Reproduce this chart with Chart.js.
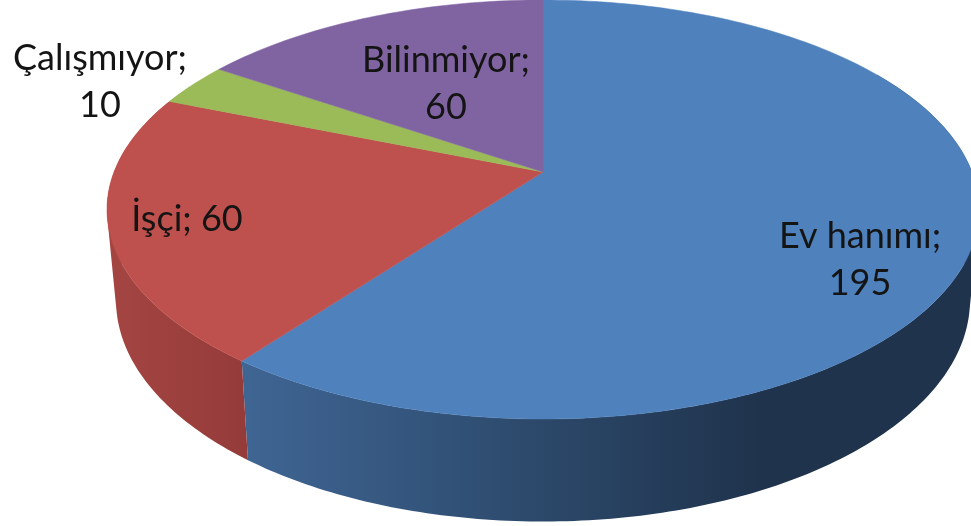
<!DOCTYPE html>
<html lang="tr">
<head>
<meta charset="utf-8">
<title>Pasta grafik</title>
<style>
html,body{margin:0;padding:0;background:#fff;overflow:hidden}
#c{display:block;filter:blur(0.7px)}
</style>
<script src="https://cdn.jsdelivr.net/npm/chart.js@4/dist/chart.umd.min.js"></script>
</head>
<body>
<canvas id="c" width="971" height="526"></canvas>
<script>
const categories = ['Ev hanımı', 'İşçi', 'Çalışmıyor', 'Bilinmiyor'];
const seriesValues = [195, 60, 10, 60];
const topColors = ['#4f81bd', '#be504d', '#9bbb59', '#8064a2'];

// Layout of the tilted disc (styling of the drawing, not data)
const apex = {x: 543, y: 172};
const topRim = {cx: 543, cy: 209.5, rx: 436, ry: 209.5};
const lowRim = {cx: 543, cy: 300, rx: 427, ry: 221.5};
const DEG = Math.PI / 180;
// Perspective foreshortening of the angle around the rim
function warp(t) { return t - 17.8 * DEG * Math.sin(t) - 2.9 * DEG * Math.sin(2 * t); }
function rimPoint(r, p) { return [r.cx + r.rx * Math.sin(p), r.cy - r.ry * Math.cos(p)]; }

const labelLayout = [
  {lines: i => [categories[i] + ';', String(seriesValues[i])], x: 860, y: 248},
  {lines: i => [categories[i] + '; ' + seriesValues[i]], x: 187, y: 231},
  {lines: i => [categories[i] + ';', String(seriesValues[i])], x: 100, y: 70},
  {lines: i => [categories[i] + ';', String(seriesValues[i])], x: 446, y: 72}
];

function sideStyle(ctx, i) {
  const g = ctx.createLinearGradient(i === 0 ? 245 : 110, 0, i === 0 ? 760 : 250, 0);
  if (i === 0) {
    g.addColorStop(0, '#3f6593');
    g.addColorStop(0.3, '#35577f');
    g.addColorStop(0.6, '#2b4768');
    g.addColorStop(1, '#1f334c');
  } else if (i === 1) {
    g.addColorStop(0, '#a44542');
    g.addColorStop(1, '#943b39');
  } else {
    g.addColorStop(0, topColors[i]);
    g.addColorStop(1, topColors[i]);
  }
  return g;
}

function signedArea(q) {
  let s = 0;
  q.forEach((p, k) => { const r = q[(k + 1) % q.length]; s += p[0] * r[1] - r[0] * p[1]; });
  return s;
}

const disc3d = {
  id: 'disc3d',
  beforeDatasetsDraw(chart) {
    const ctx = chart.ctx;
    const arcs = chart.getDatasetMeta(0).data;
    const spans = arcs.map(a => [warp(a.startAngle + Math.PI / 2), warp(a.endAngle + Math.PI / 2)]);
    // side wall: one path made of thin strips between the two rims, all wound
    // the same way, so the outline follows the tangent between the rims
    spans.forEach((s, i) => {
      const from = Math.max(s[0], 50 * DEG), to = Math.min(s[1], 306 * DEG);
      if (to <= from) return;
      ctx.beginPath();
      const n = Math.ceil((to - from) / DEG);
      for (let k = 0; k < n; k++) {
        const a = from + (to - from) * k / n, b = from + (to - from) * (k + 1) / n;
        const q = [rimPoint(topRim, a), rimPoint(topRim, b), rimPoint(lowRim, b), rimPoint(lowRim, a)];
        if (signedArea(q) < 0) q.reverse();
        ctx.moveTo(q[0][0], q[0][1]);
        for (let m = 1; m < 4; m++) ctx.lineTo(q[m][0], q[m][1]);
        ctx.closePath();
      }
      ctx.fillStyle = sideStyle(ctx, i);
      ctx.fill();
    });
    // top face
    spans.forEach((s, i) => {
      ctx.beginPath();
      ctx.moveTo(apex.x, apex.y);
      const n = Math.max(8, Math.ceil((s[1] - s[0]) / DEG));
      for (let k = 0; k <= n; k++) {
        const p = rimPoint(topRim, s[0] + (s[1] - s[0]) * k / n);
        ctx.lineTo(p[0], p[1]);
      }
      ctx.closePath();
      ctx.fillStyle = topColors[i];
      ctx.strokeStyle = topColors[i];
      ctx.lineWidth = 0.5;
      ctx.fill();
      ctx.stroke();
    });
    // data labels
    ctx.font = '36px Lato, "Open Sans", sans-serif';
    ctx.fillStyle = '#141414';
    ctx.textAlign = 'center';
    ctx.textBaseline = 'alphabetic';
    labelLayout.forEach((l, i) => {
      l.lines(i).forEach((t, j) => ctx.fillText(t, l.x, l.y + j * 47));
    });
    return false;
  }
};

new Chart(document.getElementById('c'), {
  type: 'pie',
  data: {
    labels: categories,
    datasets: [{data: seriesValues, backgroundColor: topColors, borderWidth: 0}]
  },
  options: {
    responsive: false,
    animation: false,
    plugins: {legend: {display: false}, tooltip: {enabled: false}}
  },
  plugins: [disc3d]
});
</script>
</body>
</html>
